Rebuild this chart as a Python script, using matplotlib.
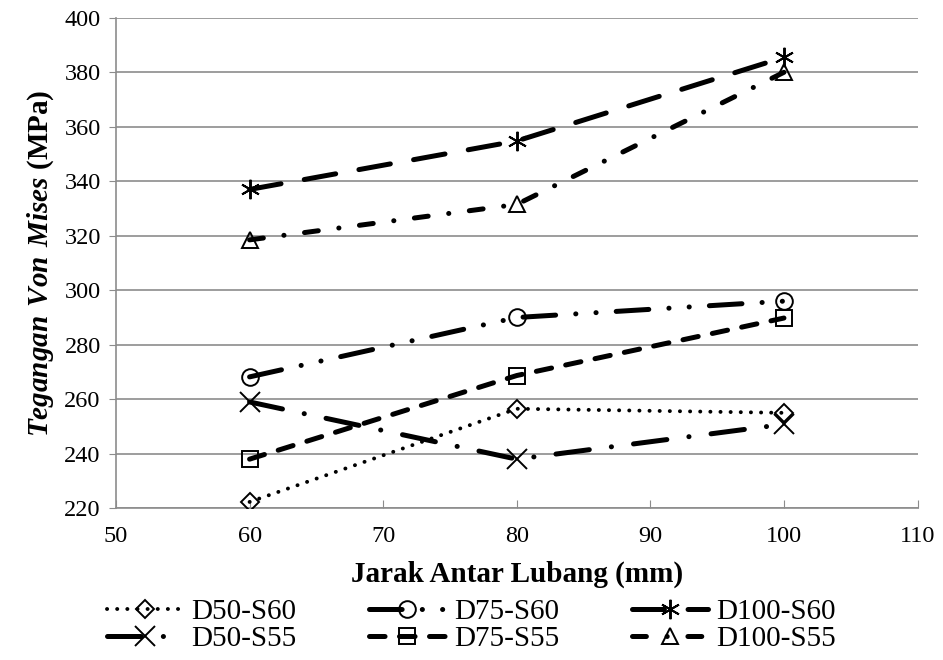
import matplotlib
matplotlib.use("Agg")
import matplotlib.pyplot as plt
from matplotlib.ticker import MultipleLocator

plt.rcParams['font.family'] = ['Liberation Serif', 'DejaVu Serif']
plt.rcParams['mathtext.fontset'] = 'custom'
plt.rcParams['mathtext.bfit'] = 'Liberation Serif:bold:italic'
plt.rcParams['mathtext.rm'] = 'Liberation Serif'
plt.rcParams['lines.scale_dashes'] = False

x = [60, 80, 100]
series_names = ["D50-S60", "D75-S60", "D100-S60", "D50-S55", "D75-S55", "D100-S55"]
d50_s60 = [222.3, 256.5, 255.0]
d75_s60 = [268.2, 290.0, 296.0]
d100_s60 = [337.0, 354.8, 385.5]
d50_s55 = [259.0, 238.0, 250.8]
d75_s55 = [238.0, 268.7, 289.8]
d100_s55 = [318.5, 331.5, 380.0]
values = [d50_s60, d75_s60, d100_s60, d50_s55, d75_s55, d100_s55]

markers = ['D', 'o', (6, 2, 0), 'x', 's', '^']
msizes = [9, 12, 14, 14, 12, 12]
dashes = [
    (0, (0.1, 7.2)),
    (0, (23.5, 14.5, 0.1, 14.5, 0.1, 14.5)),
    (0, (23, 17)),
    (0, (24.2, 16, 0.1, 16)),
    (0, (11.2, 10.4)),
    (0, (10, 14.9, 0.1, 14.9)),
]
lws = [2.8, 3.6, 3.6, 3.6, 3.6, 3.6]

fig = plt.figure(figsize=(9.43, 6.6), dpi=100)
ax = fig.add_axes([0.123, 0.230, 0.850, 0.743])

handles = []
for name, vals, m, ms, ls, lw in zip(series_names, values, markers, msizes, dashes, lws):
    h, = ax.plot(x, vals, color='black', linestyle=ls, linewidth=lw,
                 dash_capstyle='round', marker=m, markersize=ms,
                 markerfacecolor='none',
                 markeredgecolor='black', markeredgewidth=1.4, label=name, zorder=3)
    handles.append(h)

ax.set_xlim(50, 110)
ax.set_ylim(220, 400)
ax.xaxis.set_major_locator(MultipleLocator(10))
ax.yaxis.set_major_locator(MultipleLocator(20))
ax.grid(axis='y', color='#8c8c8c', linewidth=1.2, zorder=0)
ax.set_axisbelow(True)
for s in ['top', 'right']:
    ax.spines[s].set_visible(False)
for s in ['left', 'bottom']:
    ax.spines[s].set_color('#8c8c8c')
    ax.spines[s].set_linewidth(1.2)
ax.tick_params(axis='x', direction='in', length=6, color='#8c8c8c', labelsize=17.5, pad=13)
ax.tick_params(axis='y', direction='out', length=5, color='#8c8c8c', labelsize=17.5, pad=6)

ax.set_xlabel("Jarak Antar Lubang (mm)", fontsize=21, fontweight='bold', labelpad=10)
ax.set_ylabel(r"$\mathbfit{Tegangan\ Von\ Mises}$ (MPa)", fontsize=21, fontweight='bold', labelpad=6)

order = [0, 3, 1, 4, 2, 5]
leg = fig.legend([handles[i] for i in order], [series_names[i] for i in order],
                 ncol=3, loc='center', bbox_to_anchor=(0.50, 0.052),
                 frameon=False, fontsize=21, handlelength=2.6, handletextpad=0.3,
                 columnspacing=2.5, labelspacing=0.02, numpoints=1, borderpad=0.1)

fig.savefig("out.png", dpi=100)
